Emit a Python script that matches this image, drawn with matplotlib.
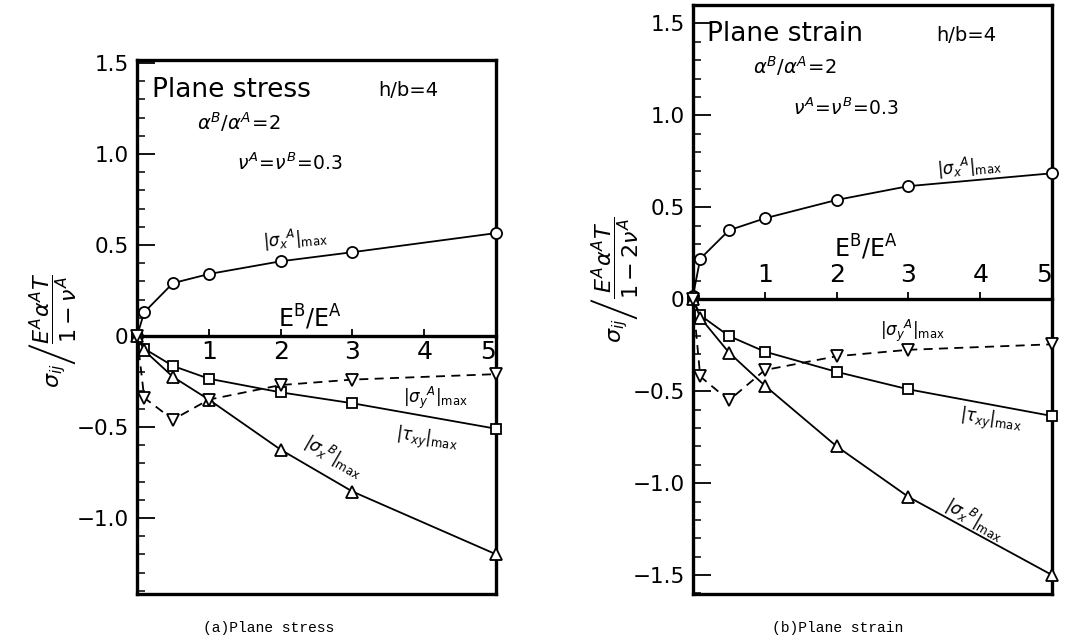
import matplotlib.pyplot as plt
from matplotlib.ticker import MultipleLocator

plt.rcParams['mathtext.fontset'] = 'dejavusans'
plt.rcParams['font.family'] = 'DejaVu Sans'

# modulus ratio E^B/E^A
ratio = [0, 0.1, 0.5, 1, 2, 3, 5]

# (a) plane stress
a_sxA = [0, 0.13, 0.29, 0.34, 0.41, 0.46, 0.565]
a_txy = [0, -0.07, -0.165, -0.235, -0.31, -0.37, -0.51]
a_sxB = [0, -0.08, -0.225, -0.35, -0.625, -0.855, -1.20]
a_syA = [0, -0.34, -0.46, -0.35, -0.27, -0.24, -0.21]

# (b) plane strain
b_sxA = [0.02, 0.22, 0.375, 0.44, 0.54, 0.615, 0.685]
b_txy = [0, -0.087, -0.20, -0.285, -0.395, -0.49, -0.635]
b_sxB = [0, -0.10, -0.29, -0.47, -0.80, -1.075, -1.50]
b_syA = [0, -0.42, -0.55, -0.385, -0.31, -0.275, -0.245]

a_yticks = [1.5, 1.0, 0.5, 0, -0.5, -1.0]
b_yticks = [1.5, 1.0, 0.5, 0, -0.5, -1.0, -1.5]
xticks = [1, 2, 3, 4, 5]


def ylabel_text(v):
    if v == 0:
        return '0'
    return ('%.1f' % v).replace('-', '\u2212')


def draw_panel(ax, ylim, yticks, sxA, txy, sxB, syA, labels_on_top):
    ax.set_xlim(0, 5)
    ax.set_ylim(*ylim)
    for s in ax.spines.values():
        s.set_linewidth(2.4)

    mk = dict(color='black', lw=1.3, mfc='white', mec='black', mew=1.3,
              clip_on=False, zorder=3)
    ax.plot(ratio, sxA, marker='o', ms=8, **mk)
    ax.plot(ratio, txy, marker='s', ms=7, **mk)
    ax.plot(ratio, sxB, marker='^', ms=8, **mk)
    ax.plot(ratio, syA, marker='v', ms=8, ls=(0, (5, 3.5)), **mk)

    ax.tick_params(axis='x', bottom=False, labelbottom=False)
    ax.set_yticks(yticks, [ylabel_text(v) for v in yticks])
    ax.yaxis.set_minor_locator(MultipleLocator(0.1))
    ax.tick_params(axis='y', which='major', direction='in', length=13,
                   width=1.3, labelsize=15.5, pad=6)
    ax.tick_params(axis='y', which='minor', direction='in', length=6,
                   width=1.1)

    # abscissa drawn along the zero line
    sec = ax.secondary_xaxis(0, transform=ax.transData)
    sec.set_xticks(xticks, [str(v) for v in xticks])
    if labels_on_top:
        sec.set_alignment('top')
        sec.spines['top'].set_linewidth(2.4)
        sec.tick_params(direction='out', length=5, width=1.3,
                        labelsize=18, pad=4)
    else:
        sec.spines['bottom'].set_linewidth(2.4)
        sec.tick_params(direction='in', length=5, width=1.3,
                        labelsize=18, pad=3)
    sec.get_xticklabels()[-1].set_ha('right')
    return sec


fig = plt.figure(figsize=(10.74, 6.43), dpi=100)
ax1 = fig.add_axes([0.1276, 0.0762, 0.3343, 0.8305])
ax2 = fig.add_axes([0.6453, 0.0762, 0.3343, 0.9160])

draw_panel(ax1, (-1.418, 1.516), a_yticks, a_sxA, a_txy, a_sxB, a_syA, False)
draw_panel(ax2, (-1.603, 1.60), b_yticks, b_sxA, b_txy, b_sxB, b_syA, True)

lbl_sxA = r'$|\sigma_x{}^A|_{\mathrm{max}}$'
lbl_syA = r'$|\sigma_y{}^A|_{\mathrm{max}}$'
lbl_txy = r'$|\tau_{xy}|_{\mathrm{max}}$'
lbl_sxB = r'$|\sigma_x{}^B|_{\mathrm{max}}$'
lbl_ratio = r'$\mathrm{E^B/E^A}$'
lbl_alpha = r'$\alpha^B/\alpha^A\!=\!2$'
lbl_nu = r'$\nu^A\!=\!\nu^B\!=\!0.3$'

# (a) annotations
ax1.text(0.21, 1.35, 'Plane stress', fontsize=19, va='center')
ax1.text(3.36, 1.35, 'h/b=4', fontsize=14, va='center')
ax1.text(0.84, 1.175, lbl_alpha, fontsize=14, va='center')
ax1.text(1.39, 0.95, lbl_nu, fontsize=13.5, va='center')
ax1.text(2.41, 0.10, lbl_ratio, fontsize=17, ha='center', va='center')
ax1.text(2.2, 0.53, lbl_sxA, fontsize=12, ha='center', va='center', rotation=5)
ax1.text(4.16, -0.34, lbl_syA, fontsize=12, ha='center', va='center')
ax1.text(4.04, -0.57, lbl_txy, fontsize=12, ha='center', va='center', rotation=-8)
ax1.text(2.73, -0.665, lbl_sxB, fontsize=12, ha='center', va='center', rotation=-30)

# (b) annotations
ax2.text(0.19, 1.445, 'Plane strain', fontsize=19, va='center')
ax2.text(3.39, 1.435, 'h/b=4', fontsize=14, va='center')
ax2.text(0.83, 1.27, lbl_alpha, fontsize=14, va='center')
ax2.text(1.39, 1.04, lbl_nu, fontsize=13.5, va='center')
ax2.text(2.40, 0.28, lbl_ratio, fontsize=17, ha='center', va='center')
ax2.text(3.85, 0.72, lbl_sxA, fontsize=12, ha='center', va='center', rotation=5)
ax2.text(3.06, -0.17, lbl_syA, fontsize=12, ha='center', va='center')
ax2.text(4.15, -0.66, lbl_txy, fontsize=12, ha='center', va='center', rotation=-8)
ax2.text(3.92, -1.20, lbl_sxB, fontsize=12, ha='center', va='center', rotation=-30)

fig.text(52 / 1074, 1 - 330 / 643,
         r'$\sigma_{ij}\left/\dfrac{E^A\alpha^AT}{1-\nu^A}\right.$',
         fontsize=16, rotation=90, ha='center', va='center')
fig.text(615 / 1074, 1 - 280 / 643,
         r'$\sigma_{ij}\left/\dfrac{E^A\alpha^AT}{1-2\nu^A}\right.$',
         fontsize=16, rotation=90, ha='center', va='center')

fig.text(269 / 1074, 1 - 628 / 643, '(a)Plane stress', family='Liberation Mono',
         fontsize=10.5, ha='center', va='center')
fig.text(838 / 1074, 1 - 628 / 643, '(b)Plane strain', family='Liberation Mono',
         fontsize=10.5, ha='center', va='center')

fig.savefig('out.png', dpi=100)
